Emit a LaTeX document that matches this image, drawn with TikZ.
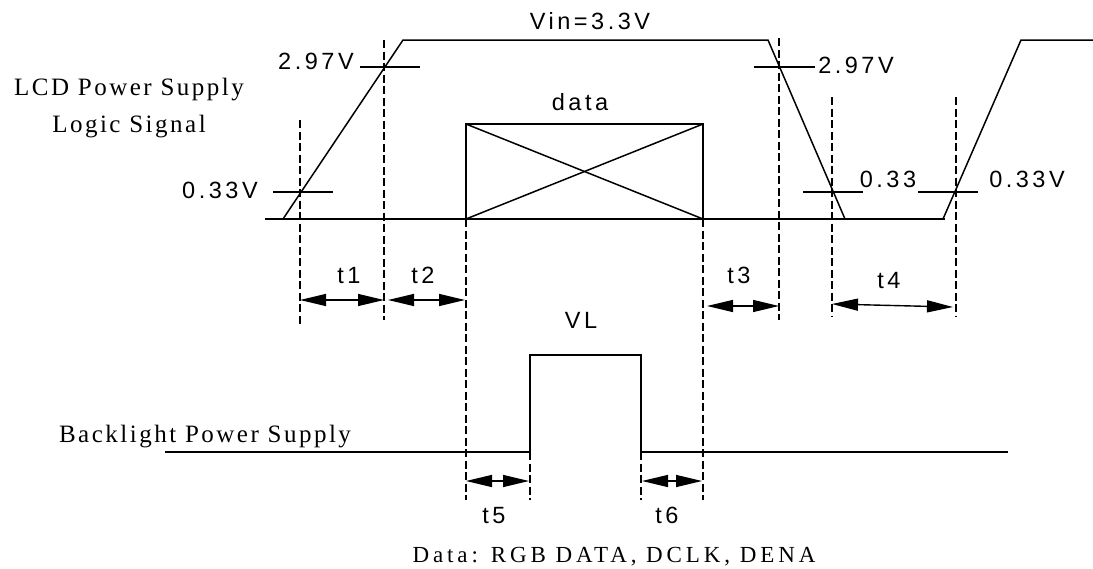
\documentclass[tikz,border=0pt]{standalone}
\usepackage{fontspec}
\usetikzlibrary{arrows.meta}
\newfontfamily\lblserif{Liberation Serif}[LetterSpace=10]
\newfontfamily\capserif{Liberation Serif}[LetterSpace=17]
\newfontfamily\lblsans{Liberation Sans}[LetterSpace=15]
\tikzset{
  x=1pt, y=-1pt,
  wave/.style={line width=1.5pt, line join=miter},
  guide/.style={line width=1.4pt, dash pattern=on 8pt off 3.5pt},
  tick/.style={line width=1.4pt},
  dim/.style={line width=1.4pt, {Triangle[length=26pt,width=12pt]}-{Triangle[length=26pt,width=12pt]}},
  sigtext/.style={font=\lblserif\fontsize{25}{29}\selectfont, anchor=base, inner sep=0pt},
  notetext/.style={font=\capserif\fontsize{23}{27}\selectfont, anchor=base, inner sep=0pt},
  valtext/.style={font=\lblsans\fontsize{23.5}{27}\selectfont, anchor=base, inner sep=0pt},
}
\begin{document}
\begin{tikzpicture}
\useasboundingbox (0,0) rectangle (1093,568);

% ---------- LCD power supply / logic signal ----------
\coordinate (b0) at (265,219);
\coordinate (b1) at (945,219);
\draw[wave] (b0) -- (b1);
\coordinate (r1a) at (283,219);
\coordinate (r1b) at (403,40);
\coordinate (f1a) at (768,40);
\coordinate (f1b) at (845,219);
\draw[wave] (r1a) -- (r1b) -- (f1a) -- (f1b);
\coordinate (r2a) at (943,219);
\coordinate (r2b) at (1021,40);
\coordinate (r2c) at (1093,40);
\draw[wave] (r2a) -- (r2b) -- (r2c);

% data box
\coordinate (dtl) at (466,124);
\coordinate (dbr) at (703,219);
\coordinate (dtr) at (703,124);
\coordinate (dbl) at (466,219);
\draw[wave] (dtl) rectangle (dbr);
\draw[wave] (dtl) -- (dbr);
\draw[wave] (dbl) -- (dtr);

% threshold ticks
\coordinate (k1a) at (360,67);  \coordinate (k1b) at (420,67);
\coordinate (k2a) at (273,192); \coordinate (k2b) at (333,192);
\coordinate (k3a) at (754,67);  \coordinate (k3b) at (815,67);
\coordinate (k4a) at (803,192); \coordinate (k4b) at (863,192);
\coordinate (k5a) at (918,192); \coordinate (k5b) at (978,192);
\foreach \k in {1,...,5} \draw[tick] (k\k a) -- (k\k b);

% dashed guides
\coordinate (g1a) at (300,120); \coordinate (g1b) at (300,325);
\coordinate (g2a) at (384,40);  \coordinate (g2b) at (384,320);
\coordinate (g3a) at (466,219); \coordinate (g3b) at (466,500);
\coordinate (g4a) at (703,219); \coordinate (g4b) at (703,500);
\coordinate (g5a) at (779,38);  \coordinate (g5b) at (779,320);
\coordinate (g6a) at (832,97);  \coordinate (g6b) at (832,317);
\coordinate (g7a) at (956,97);  \coordinate (g7b) at (956,317);
\coordinate (g8a) at (530,452); \coordinate (g8b) at (530,500);
\coordinate (g9a) at (641,452); \coordinate (g9b) at (641,500);
\foreach \g in {1,...,9} \draw[guide] (g\g a) -- (g\g b);

% dimension arrows
\coordinate (a1a) at (300,300); \coordinate (a1b) at (384,300);
\coordinate (a2a) at (388,300); \coordinate (a2b) at (465,300);
\coordinate (a3a) at (707,306); \coordinate (a3b) at (779,306);
\coordinate (a4a) at (832,304); \coordinate (a4b) at (953,307);
\coordinate (a5a) at (466,481); \coordinate (a5b) at (529,481);
\coordinate (a6a) at (642,481); \coordinate (a6b) at (702,481);
\foreach \a in {1,...,6} \draw[dim] (a\a a) -- (a\a b);

% ---------- Backlight power supply ----------
\coordinate (p0) at (165,452);
\coordinate (p1) at (530,452);
\coordinate (p2) at (530,355);
\coordinate (p3) at (641,355);
\coordinate (p4) at (641,452);
\coordinate (p5) at (1008,452);
\draw[wave] (p0) -- (p1) -- (p2) -- (p3) -- (p4) -- (p5);

% ---------- texts ----------
\node[sigtext] (lcd) at (129,95) {LCD Power Supply};
\node[sigtext] (logic) at (129,132) {Logic Signal};
\node[sigtext] (bl) at (205,442) {Backlight Power Supply};
\node[notetext] (note) at (614,562) {Data: RGB DATA, DCLK, DENA};

\node[valtext] (vin) at (590,29) {Vin=3.3V};
\node[valtext] (data) at (580,110) {data};
\node[valtext] (v297l) at (316,69) {2.97V};
\node[valtext] (v297r) at (856,73) {2.97V};
\node[valtext] (v033l) at (220,198) {0.33V};
\node[valtext] (v033m) at (888,187) {0.33};
\node[valtext] (v033r) at (1027,187) {0.33V};
\node[valtext] (t1) at (349,283) {t1};
\node[valtext] (t2) at (423,283) {t2};
\node[valtext] (t3) at (739,283) {t3};
\node[valtext] (t4) at (889,288) {t4};
\node[valtext] (vl) at (581,328) {VL};
\node[valtext] (t5) at (494,523) {t5};
\node[valtext] (t6) at (667,523) {t6};
\end{tikzpicture}
\end{document}
